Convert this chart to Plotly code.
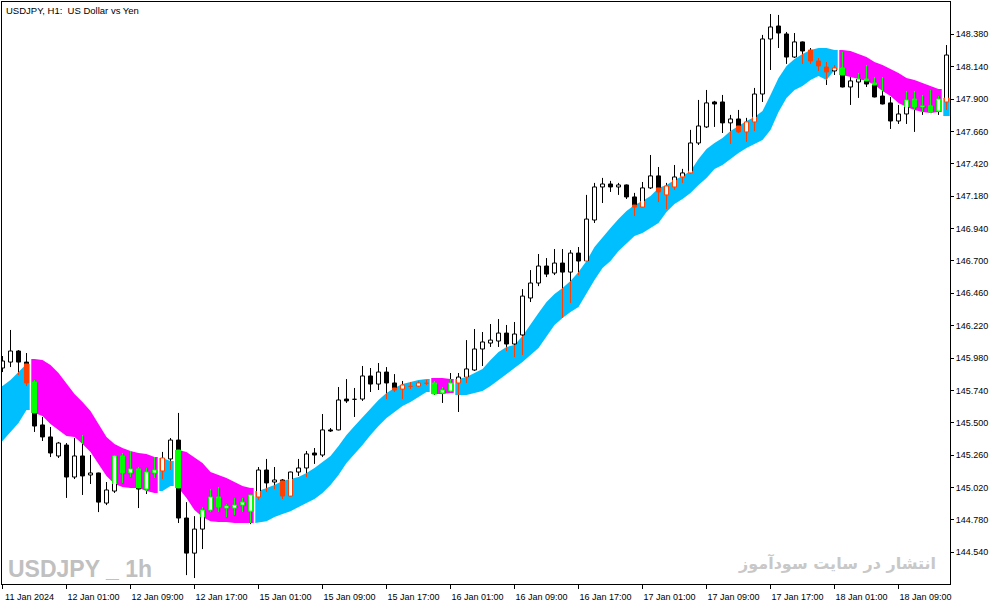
import plotly.graph_objects as go

# USDJPY H1, bar 0 = 11 Jan 2024 17:00 (index axis, weekend gap removed)
opens = [145.906, 145.950, 146.032, 145.950, 145.802, 145.484, 145.395, 145.254, 145.335, 145.098,
         145.254, 145.113, 145.128, 144.905, 144.994, 145.254, 145.128, 145.158, 145.009, 145.128,
         145.143, 145.232, 145.372, 144.794, 144.534, 144.712, 144.853, 144.950, 144.868, 144.868,
         144.890, 144.845, 144.950, 145.150, 145.061, 145.076, 144.957, 145.135, 145.165, 145.276,
         145.261, 145.447, 145.447, 145.676, 145.676, 145.676, 145.847, 145.787, 145.876, 145.795,
         145.750, 145.772, 145.772, 145.795, 145.795, 145.721, 145.735, 145.795, 145.839, 145.891,
         146.047, 146.091, 146.106, 146.165, 146.084, 146.151, 146.425, 146.536, 146.662, 146.610,
         146.684, 146.617, 146.758, 146.699, 147.003, 147.248, 147.270, 147.248, 147.263, 147.174,
         147.099, 147.241, 147.330, 147.189, 147.248, 147.322, 147.352, 147.574, 147.693, 147.878,
         147.878, 147.723, 147.752, 147.656, 147.730, 147.937, 148.345, 148.441, 148.382, 148.211,
         148.323, 148.263, 148.182, 148.137, 148.108, 148.130, 147.989, 148.026, 148.048, 148.019,
         147.922, 147.871, 147.737, 147.789, 147.900, 147.841, 147.849, 147.811, 147.878]
highs = [145.995, 146.188, 146.039, 146.017, 145.817, 145.543, 145.469, 145.358, 145.350, 145.387,
         145.410, 145.261, 145.130, 145.061, 145.258, 145.276, 145.291, 145.172, 145.165, 145.246,
         145.284, 145.387, 145.573, 144.912, 144.808, 144.875, 145.009, 145.024, 144.897, 144.943,
         144.943, 144.968, 145.172, 145.232, 145.172, 145.083, 145.138, 145.232, 145.291, 145.313,
         145.565, 145.461, 145.765, 145.824, 145.758, 145.921, 145.906, 145.943, 145.913, 145.861,
         145.810, 145.802, 145.810, 145.817, 145.810, 145.765, 145.869, 145.869, 146.113, 146.195,
         146.173, 146.232, 146.269, 146.225, 146.247, 146.491, 146.632, 146.751, 146.721, 146.788,
         146.788, 146.780, 146.803, 147.189, 147.278, 147.315, 147.293, 147.278, 147.266, 147.204,
         147.285, 147.485, 147.396, 147.278, 147.411, 147.382, 147.671, 147.893, 147.967, 147.886,
         147.930, 147.782, 147.819, 147.760, 147.982, 148.375, 148.530, 148.523, 148.397, 148.389,
         148.326, 148.278, 148.204, 148.174, 148.152, 148.249, 148.063, 148.093, 148.152, 148.063,
         148.063, 147.915, 147.856, 147.959, 147.959, 147.930, 147.967, 147.922, 148.300]
lows = [145.876, 145.913, 145.854, 145.772, 145.432, 145.365, 145.246, 145.239, 144.943, 145.083,
        144.965, 145.046, 144.838, 144.890, 144.980, 145.054, 145.098, 144.868, 144.972, 145.091,
        145.083, 145.150, 144.757, 144.371, 144.349, 144.564, 144.838, 144.838, 144.801, 144.816,
        144.838, 144.749, 144.927, 144.987, 145.009, 144.935, 144.954, 145.106, 145.098, 145.195,
        145.246, 145.432, 145.444, 145.647, 145.543, 145.662, 145.728, 145.743, 145.676, 145.728,
        145.676, 145.750, 145.765, 145.780, 145.706, 145.647, 145.728, 145.580, 145.795, 145.884,
        145.921, 146.062, 146.062, 146.032, 145.987, 146.002, 146.395, 146.513, 146.580, 146.595,
        146.277, 146.388, 146.595, 146.696, 146.981, 147.129, 147.211, 147.189, 147.159, 147.032,
        147.096, 147.233, 147.136, 147.084, 147.226, 147.278, 147.344, 147.559, 147.685, 147.693,
        147.648, 147.567, 147.648, 147.582, 147.663, 147.878, 148.115, 148.278, 148.160, 148.204,
        148.160, 148.160, 148.108, 148.004, 148.078, 147.986, 147.856, 147.908, 147.989, 147.912,
        147.860, 147.678, 147.715, 147.715, 147.656, 147.782, 147.797, 147.782, 147.819]
closes = [145.958, 146.032, 145.950, 145.795, 145.476, 145.395, 145.276, 145.350, 145.098, 145.254,
          145.106, 145.128, 144.912, 145.002, 145.254, 145.128, 145.158, 145.009, 145.135, 145.150,
          145.239, 145.372, 144.794, 144.534, 144.712, 144.853, 144.950, 144.875, 144.883, 144.890,
          144.912, 144.965, 145.150, 145.054, 145.076, 144.957, 145.135, 145.165, 145.269, 145.261,
          145.447, 145.439, 145.669, 145.662, 145.674, 145.847, 145.787, 145.876, 145.795, 145.743,
          145.780, 145.770, 145.795, 145.793, 145.713, 145.743, 145.795, 145.839, 145.899, 146.047,
          146.099, 146.113, 146.165, 146.084, 146.158, 146.439, 146.536, 146.662, 146.602, 146.684,
          146.617, 146.758, 146.699, 147.010, 147.248, 147.270, 147.248, 147.263, 147.174, 147.099,
          147.241, 147.330, 147.211, 147.255, 147.322, 147.352, 147.574, 147.700, 147.871, 147.863,
          147.723, 147.752, 147.656, 147.730, 147.937, 148.345, 148.434, 148.389, 148.211, 148.323,
          148.256, 148.182, 148.145, 148.100, 148.130, 147.989, 148.034, 148.048, 148.011, 147.915,
          147.863, 147.737, 147.789, 147.893, 147.841, 147.849, 147.804, 147.900, 148.226]

# channel edges per bar
band_hi = [145.772, 145.817, 145.876, 145.936, 145.973, 145.965, 145.928, 145.869, 145.787, 145.713,
           145.654, 145.587, 145.491, 145.395, 145.343, 145.313, 145.291, 145.276, 145.269, 145.246,
           145.239, 145.217, 145.298, 145.284, 145.246, 145.202, 145.135, 145.113, 145.091, 145.061,
           145.031, 145.017, 144.994, 145.017, 145.039, 145.069, 145.083, 145.098, 145.128, 145.165,
           145.210, 145.254, 145.328, 145.410, 145.476, 145.543, 145.602, 145.669, 145.721, 145.758,
           145.787, 145.802, 145.817, 145.824, 145.832, 145.832, 145.824, 145.824, 145.839, 145.869,
           145.899, 145.965, 146.025, 146.062, 146.076, 146.143, 146.232, 146.314, 146.395, 146.454,
           146.499, 146.551, 146.617, 146.699, 146.803, 146.877, 146.943, 147.010, 147.069, 147.114,
           147.144, 147.181, 147.241, 147.263, 147.300, 147.330, 147.367, 147.456, 147.530, 147.574,
           147.611, 147.663, 147.700, 147.737, 147.767, 147.811, 147.930, 148.056, 148.145, 148.197,
           148.234, 148.263, 148.278, 148.278, 148.263, 148.263, 148.256, 148.234, 148.211, 148.174,
           148.152, 148.123, 148.093, 148.056, 148.041, 148.019, 147.996, 147.974, 147.908]
band_lo = [145.365, 145.432, 145.499, 145.595, 145.573, 145.550, 145.491, 145.447, 145.402, 145.395,
           145.343, 145.284, 145.195, 145.106, 145.046, 145.024, 145.017, 145.017, 144.994, 144.980,
           144.994, 145.031, 145.017, 144.943, 144.853, 144.801, 144.771, 144.764, 144.764, 144.757,
           144.757, 144.757, 144.757, 144.771, 144.801, 144.823, 144.845, 144.875, 144.905, 144.935,
           144.980, 145.039, 145.113, 145.202, 145.269, 145.335, 145.410, 145.476, 145.536, 145.580,
           145.625, 145.654, 145.691, 145.728, 145.713, 145.713, 145.721, 145.706, 145.706, 145.721,
           145.735, 145.772, 145.817, 145.861, 145.906, 145.950, 146.002, 146.054, 146.143, 146.225,
           146.277, 146.321, 146.358, 146.454, 146.558, 146.647, 146.699, 146.773, 146.832, 146.884,
           146.906, 146.943, 146.981, 147.062, 147.121, 147.159, 147.204, 147.263, 147.315, 147.382,
           147.411, 147.456, 147.500, 147.537, 147.567, 147.596, 147.671, 147.804, 147.908, 147.967,
           147.996, 148.041, 148.071, 148.041, 148.115, 148.078, 148.063, 148.048, 148.034, 148.004,
           147.959, 147.922, 147.871, 147.841, 147.819, 147.804, 147.797, 147.804, 147.774]
# 1 = up trend (blue channel), -1 = down trend (magenta channel)
band_dir = ([1] * 4 + [-1] * 16 + [1] * 2 + [-1] * 10 + [1] * 22 + [-1] * 3
            + [1] * 48 + [-1] * 13 + [1] * 1)

tick_bars = [0, 8, 16, 24, 32, 40, 48, 56, 64, 72, 80, 88, 96, 104, 112]
tick_text = ["11 Jan 2024", "12 Jan 01:00", "12 Jan 09:00", "12 Jan 17:00", "15 Jan 01:00",
             "15 Jan 09:00", "15 Jan 17:00", "16 Jan 01:00", "16 Jan 09:00", "16 Jan 17:00",
             "17 Jan 01:00", "17 Jan 09:00", "17 Jan 17:00", "18 Jan 01:00", "18 Jan 09:00"]
price_ticks = [144.540, 144.780, 145.020, 145.260, 145.500, 145.740, 145.980, 146.220,
               146.460, 146.700, 146.940, 147.180, 147.420, 147.660, 147.900, 148.140, 148.380]

UP_FILL = "#00BFFF"
DN_FILL = "#FF00FF"
UP_CANDLE = "#FF4000"
DN_CANDLE = "#00FF00"
HALF = 0.25   # half body width, in bars
EDGE = 0.4    # a channel run reaches this far past its end bars


def runs(dirs):
    out, start = [], 0
    for i in range(1, len(dirs) + 1):
        if i == len(dirs) or dirs[i] != dirs[start]:
            out.append((start, i - 1, dirs[start]))
            start = i
    return out


def inside(lo, hi, blo, bhi):
    a, b = max(lo, blo), min(hi, bhi)
    return [(a, b)] if a < b else []


def outside(lo, hi, blo, bhi):
    parts = []
    if lo < blo:
        parts.append((lo, min(hi, blo)))
    if hi > bhi:
        parts.append((max(lo, bhi), hi))
    return [p for p in parts if p[0] <= p[1]]


def seg(store, x0, y0, x1, y1):
    store[0].extend([x0, x1, None])
    store[1].extend([y0, y1, None])


def box(store, x0, x1, y0, y1):
    store[0].extend([x0, x1, x1, x0, x0, None])
    store[1].extend([y0, y0, y1, y1, y0, None])


fig = go.Figure()

# channel
band_paths = {UP_FILL: ([], []), DN_FILL: ([], [])}
for s, e, d in runs(band_dir):
    xs = [s - EDGE] + list(range(s, e + 1)) + [e + EDGE]
    up = [band_hi[s]] + band_hi[s:e + 1] + [band_hi[e]]
    dn = [band_lo[s]] + band_lo[s:e + 1] + [band_lo[e]]
    p = band_paths[UP_FILL if d == 1 else DN_FILL]
    p[0].extend(xs + xs[::-1] + [xs[0], None])
    p[1].extend(up + dn[::-1] + [up[0], None])
for col, (xs, ys) in band_paths.items():
    fig.add_trace(go.Scatter(x=xs, y=ys, mode="lines", fill="toself", fillcolor=col,
                             line=dict(width=0), hoverinfo="skip"))

# candles: the part that sits inside the channel is drawn in the trend colour
wick = {c: ([], []) for c in ("black", UP_CANDLE, DN_CANDLE)}
white_fill = ([], [])
solid = {c: ([], []) for c in ("black", UP_CANDLE, DN_CANDLE)}
outline = {c: ([], []) for c in ("black", UP_CANDLE, DN_CANDLE)}

for i in range(len(opens)):
    o, h, l, c = opens[i], highs[i], lows[i], closes[i]
    blo, bhi = band_lo[i], band_hi[i]
    tone = UP_CANDLE if band_dir[i] == 1 else DN_CANDLE
    for a, b in inside(l, h, blo, bhi):
        seg(wick[tone], i, a, i, b)
    for a, b in outside(l, h, blo, bhi):
        seg(wick["black"], i, a, i, b)
    top, bot = max(o, c), min(o, c)
    x0, x1 = i - HALF, i + HALF
    if c >= o:
        box(white_fill, x0, x1, bot, top)
        for xe in (x0, x1):
            for a, b in inside(bot, top, blo, bhi):
                seg(outline[tone], xe, a, xe, b)
            for a, b in outside(bot, top, blo, bhi):
                seg(outline["black"], xe, a, xe, b)
        for ye in (bot, top):
            col = tone if blo <= ye <= bhi else "black"
            seg(outline[col], x0, ye, x1, ye)
    else:
        for a, b in inside(bot, top, blo, bhi):
            box(solid[tone], x0, x1, a, b)
        for a, b in outside(bot, top, blo, bhi):
            box(solid["black"], x0, x1, a, b)

for col, (xs, ys) in wick.items():
    fig.add_trace(go.Scatter(x=xs, y=ys, mode="lines", line=dict(color=col, width=1),
                             hoverinfo="skip"))
fig.add_trace(go.Scatter(x=white_fill[0], y=white_fill[1], mode="lines", fill="toself",
                         fillcolor="white", line=dict(width=0), hoverinfo="skip"))
for col, (xs, ys) in solid.items():
    fig.add_trace(go.Scatter(x=xs, y=ys, mode="lines", fill="toself", fillcolor=col,
                             line=dict(color=col, width=1), hoverinfo="skip"))
for col, (xs, ys) in outline.items():
    fig.add_trace(go.Scatter(x=xs, y=ys, mode="lines", line=dict(color=col, width=1),
                             hoverinfo="skip"))

tick_font = dict(family="Liberation Sans, Arial, sans-serif", size=9, color="black")

fig.update_layout(
    width=1003, height=605,
    margin=dict(l=2, r=53, t=2, b=21),
    paper_bgcolor="white", plot_bgcolor="white",
    showlegend=False, hovermode=False,
    xaxis=dict(range=[-0.0625, 118.4375], tickvals=tick_bars, ticktext=tick_text,
               ticks="outside", ticklen=4, tickcolor="black", tickfont=tick_font,
               ticklabelshift=27, showline=True, linecolor="black", linewidth=1,
               mirror=True, showgrid=False, zeroline=False),
    yaxis=dict(range=[144.305, 148.619], side="right", tickvals=price_ticks,
               ticktext=["%.3f" % v for v in price_ticks],
               ticks="outside", ticklen=3, tickcolor="black", tickfont=tick_font,
               showline=True, linecolor="black", linewidth=1, mirror=True,
               showgrid=False, zeroline=False),
    annotations=[
        dict(text="USDJPY, H1:\u00a0 US Dollar vs Yen", xref="paper", yref="paper",
             x=0.002, y=1, xanchor="left", yanchor="top", yshift=-1, showarrow=False,
             font=dict(family="Liberation Sans, Arial, sans-serif", size=9.5, color="black")),
        dict(text="<b>USDJPY _ 1h</b>", xref="paper", yref="paper",
             x=0.004, y=0, xanchor="left", yanchor="bottom", showarrow=False,
             font=dict(family="Liberation Sans, Arial, sans-serif", size=23, color="#C0C0C0")),
        dict(text="<b>انتشار در سایت سودآموز</b>", xref="paper", yref="paper",
             x=0.987, y=0.015, xanchor="right", yanchor="bottom", showarrow=False,
             font=dict(family="DejaVu Sans", size=16, color="#C8C8C8")),
    ],
)

fig.write_html("out.html", config={"displayModeBar": False},
               post_script="document.body.style.margin='0';")
